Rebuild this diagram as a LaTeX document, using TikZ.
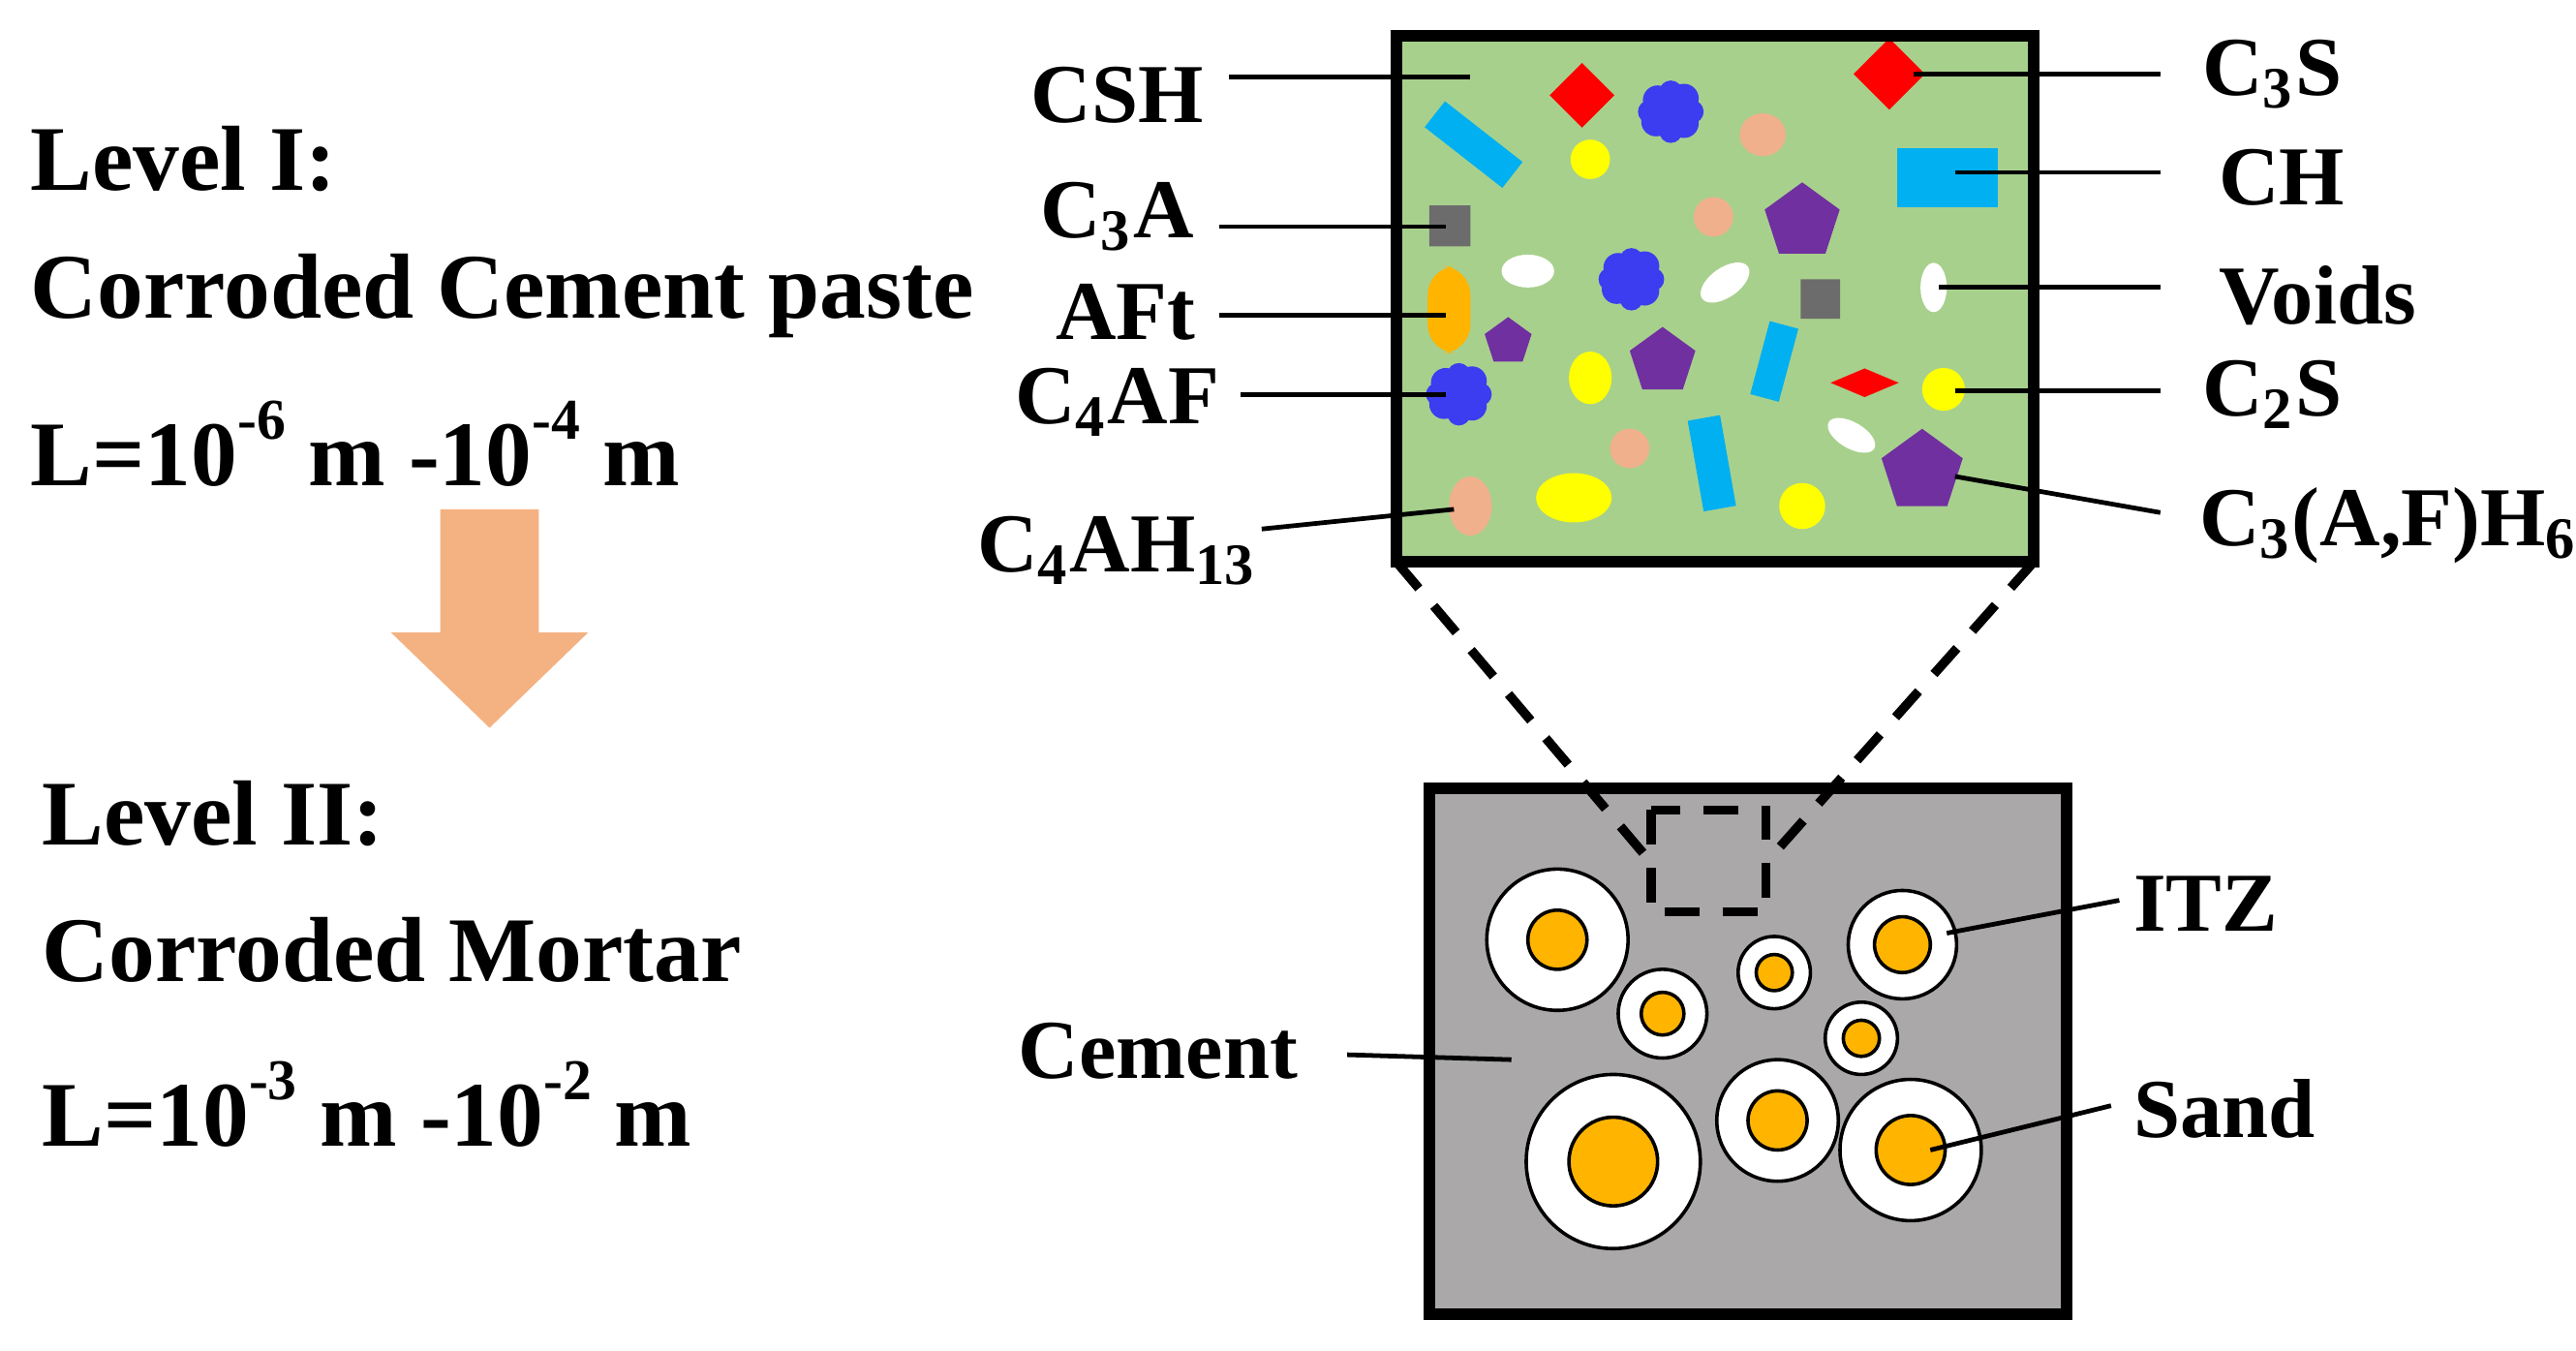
\documentclass[tikz,border=0pt]{standalone}
\usepackage{fontspec}
\setmainfont{Liberation Serif}
\usetikzlibrary{shapes.geometric}
\definecolor{gr}{RGB}{168,208,141}
\definecolor{cyanb}{RGB}{0,176,240}
\definecolor{yel}{RGB}{255,255,0}
\definecolor{sal}{RGB}{241,176,140}
\definecolor{pur}{RGB}{112,48,160}
\definecolor{blu}{RGB}{60,60,240}
\definecolor{org}{RGB}{255,180,0}
\definecolor{grb}{RGB}{170,168,168}
\definecolor{arr}{RGB}{244,178,130}
\begin{document}
\begin{tikzpicture}[x=0.01cm,y=-0.01cm,
 lbl/.style={font=\fontsize{14.5}{17}\selectfont\bfseries,inner sep=0},
 big/.style={font=\fontsize{16}{19}\selectfont\bfseries,inner sep=0,anchor=west},
 ld/.style={line width=0.8pt},
 dia/.style={diamond,fill=red,inner sep=0,minimum width=#1*0.01cm,minimum height=#1*0.01cm},
 pent/.style={regular polygon,regular polygon sides=5,fill=pur,inner sep=0,minimum size=#1*0.01cm},
 sq/.style={fill=gray!85!black},
]
\useasboundingbox (0,0) rectangle (1568,822);
% left texts
\node[big] (l1) at (18,97) {Level I:};
\node[big] (l2) at (18,180) {Corroded Cement paste};
\node[big] (l3) at (18,270) {L=10\raisebox{1.1ex}{\fontsize{10}{12}\selectfont -6} m -10\raisebox{1.1ex}{\fontsize{10}{12}\selectfont -4} m};
\node[big] (l4) at (25,495) {Level II:};
\node[big] (l5) at (25,578) {Corroded Mortar};
\node[big] (l6) at (25,672) {L=10\raisebox{1.1ex}{\fontsize{10}{12}\selectfont -3} m -10\raisebox{1.1ex}{\fontsize{10}{12}\selectfont -2} m};
\fill[arr] (268,310) -- (328,310) -- (328,385) -- (358,385) -- (298,443) -- (238,385) -- (268,385) -- cycle;
% green box
\fill[gr] (850,22) rectangle (1238,342);
\coordinate (gBL) at (850,342);
\coordinate (gBR) at (1238,342);
% particles
\node[dia=40] (d1) at (963,58) {};
\node[dia=44] (d2) at (1150,45) {};
\node[diamond,fill=red,inner sep=0,minimum width=0.42cm,minimum height=0.18cm] (d3) at (1135,233) {};
\foreach \x/\y in {1017/68,993/170,888/240}{
 \fill[blu] (\x-8,\y-7) circle (9) (\x+8,\y-8) circle (9) (\x-9,\y+6) circle (9) (\x+8,\y+7) circle (9) (\x,\y) circle (13) (\x-13,\y) circle (7) (\x+13,\y) circle (7) (\x,\y-12) circle (7) (\x,\y+12) circle (7);}
\fill[cyanb,rotate around={-38:(897,88)}] (867,78) rectangle (927,98);
\fill[cyanb] (1155,90) rectangle (1216,126);
\fill[cyanb,rotate around={-15:(1080,220)}] (1071,197) rectangle (1089,243);
\fill[cyanb,rotate around={10:(1042,282)}] (1032,254) rectangle (1052,310);
\fill[yel] (968,97) circle (12) (1183,237) circle (13) (1097,308) circle (14);
\fill[yel] (968,230) ellipse (13 and 16) (958,303) ellipse (23 and 15);
\fill[sal] (1073,82) ellipse (14 and 13) (1043,132) circle (12) (992,273) circle (12) (895,308) ellipse (13 and 18);
\node[pent=48] (p1) at (1097,135) {};
\node[pent=30] (p2) at (918,208) {};
\node[pent=42] (p3) at (1012,220) {};
\node[pent=52] (p4) at (1170,287) {};
\fill[sq] (870,125) rectangle (895,150) (1096,170) rectangle (1120,194);
\fill[org,rounded corners=5] (869,162) rectangle (895,215);
\fill[white] (930,165) ellipse (16 and 10) (1177,175) ellipse (8 and 15);
\fill[white,rotate around={35:(1050,172)}] (1050,172) ellipse (17 and 9);
\fill[white,rotate around={-30:(1127,265)}] (1127,265) ellipse (16 and 8);
\draw[line width=2pt] (850,22) rectangle (1238,342);
% green labels
\node[lbl,anchor=west] (t1) at (1340,45) {C\textsubscript{3}S};
\node[lbl,anchor=west] (t2) at (1350,108) {CH};
\node[lbl,anchor=west] (t3) at (1350,180) {Voids};
\node[lbl,anchor=west] (t4) at (1340,240) {C\textsubscript{2}S};
\node[lbl,anchor=west] (t5) at (1338,320) {C\textsubscript{3}(A,F)H\textsubscript{6}};
\node[lbl] (u1) at (680,58) {CSH};
\node[lbl] (u2) at (680,132) {C\textsubscript{3}A};
\node[lbl] (u3) at (685,190) {AFt};
\node[lbl] (u4) at (680,245) {C\textsubscript{4}AF};
\node[lbl] (u5) at (680,335) {C\textsubscript{4}AH\textsubscript{13}};
\coordinate (a1) at (1165,45); \coordinate (b1) at (1315,45);
\coordinate (a2) at (1190,105); \coordinate (b2) at (1315,105);
\coordinate (a3) at (1180,175); \coordinate (b3) at (1315,175);
\coordinate (a4) at (1190,238); \coordinate (b4) at (1315,238);
\coordinate (a5) at (1190,290); \coordinate (b5) at (1315,312);
\coordinate (c1) at (748,47); \coordinate (e1) at (895,47);
\coordinate (c2) at (742,138); \coordinate (e2) at (880,138);
\coordinate (c3) at (742,192); \coordinate (e3) at (880,192);
\coordinate (c4) at (755,240); \coordinate (e4) at (880,240);
\coordinate (c5) at (768,322); \coordinate (e5) at (885,310);
\foreach \i in {1,...,5}{\draw[ld] (a\i) -- (b\i); \draw[ld] (c\i) -- (e\i);}
% gray box
\fill[grb] (870,480) rectangle (1258,800);
\foreach \x/\y/\R/\r in {948/572/43/18,1012/617/27/13,1080/592/22/11,1158/575/33/17,1133/632/22/11,982/707/53/27,1082/682/37/18,1163/700/43/21}{
 \draw[fill=white,line width=0.6pt] (\x,\y) circle (\R);
 \draw[fill=org,line width=0.6pt] (\x,\y) circle (\r);}
\draw[line width=2pt] (870,480) rectangle (1258,800);
\draw[line width=1.6pt,dash pattern=on 6pt off 4pt] (1005,493) rectangle (1075,555);
\coordinate (sbl) at (1005,525); \coordinate (sbr) at (1075,525);
\draw[line width=1.6pt,dash pattern=on 6pt off 4pt] (gBL) -- (sbl);
\draw[line width=1.6pt,dash pattern=on 6pt off 4pt] (gBR) -- (sbr);
\node[lbl,anchor=west] (itz) at (1298,550) {ITZ};
\node[lbl,anchor=west] (sand) at (1298,675) {Sand};
\node[lbl] (cem) at (705,640) {Cement};
\coordinate (i1) at (1185,568); \coordinate (i2) at (1290,548);
\coordinate (s1) at (1175,700); \coordinate (s2) at (1285,673);
\coordinate (m1) at (820,642); \coordinate (m2) at (920,645);
\draw[ld] (i1) -- (i2); \draw[ld] (s1) -- (s2); \draw[ld] (m1) -- (m2);
\end{tikzpicture}
\end{document}
